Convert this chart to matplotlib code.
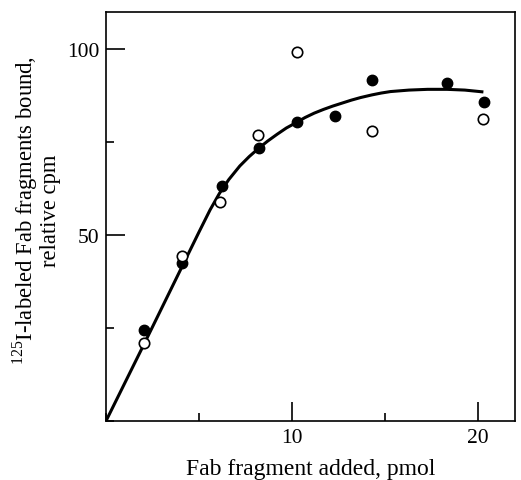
import matplotlib
matplotlib.use('agg')
import matplotlib.pyplot as plt
from matplotlib.ticker import MultipleLocator

plt.rcParams['font.family'] = 'Liberation Serif'
plt.rcParams['mathtext.fontset'] = 'custom'
plt.rcParams['mathtext.rm'] = 'Liberation Serif'

# filled circles
filled_x = [2.05, 4.1, 6.25, 8.25, 10.3, 12.3, 14.3, 18.35, 20.35]
filled_y = [24.5, 42.6, 63.2, 73.3, 80.3, 82.1, 91.7, 90.8, 85.7]
# open circles
open_x = [2.05, 4.1, 6.15, 8.2, 10.3, 14.3, 20.3]
open_y = [21.0, 44.4, 58.8, 77.0, 99.2, 78.0, 81.2]
# hand-drawn saturation curve
curve_x = [0, 2, 4, 5, 5.6, 6.1, 6.6, 7.2, 7.7, 8.2, 8.7, 9.2, 9.7, 10.25,
           10.7, 11.2, 11.7, 12.2, 12.7, 13.2, 13.7, 14.3, 14.8, 15.3, 16.3,
           17.3, 18.35, 19.3, 20.3]
curve_y = [0, 20.2, 40.6, 50.8, 56.8, 61.2, 64.9, 68.6, 71.1, 73.3, 75.3,
           77.1, 78.8, 80.3, 81.6, 82.8, 83.8, 84.7, 85.5, 86.3, 87.0, 87.7,
           88.2, 88.6, 89.0, 89.2, 89.2, 89.0, 88.5]

x_ticks = [10, 20]
y_ticks = [50, 100]


def main():
    fig = plt.figure(figsize=(5.21, 4.81), dpi=100)
    ax = fig.add_axes([106 / 521, 1 - 422 / 481, 409 / 521, 409 / 481])

    ax.plot(curve_x, curve_y, color='black', lw=2.2, solid_capstyle='butt',
            solid_joinstyle='round')
    ax.plot(filled_x, filled_y, 'o', color='black', ms=7.5, zorder=3)
    ax.plot(open_x, open_y, 'o', mfc='white', mec='black', mew=1.2, ms=7.5,
            zorder=3)

    ax.set_xlim(0, 22)
    ax.set_ylim(0, 110)
    ax.set_xticks(x_ticks)
    ax.set_yticks(y_ticks)
    ax.xaxis.set_minor_locator(MultipleLocator(5))
    ax.yaxis.set_minor_locator(MultipleLocator(25))
    ax.tick_params(which='major', direction='in', length=14, width=1.2,
                   labelsize=15.5, pad=5)
    ax.tick_params(which='minor', direction='in', length=6, width=1.2)
    ax.tick_params(top=False, right=False, which='both')
    for s in ax.spines.values():
        s.set_linewidth(1.2)

    ax.set_xlabel('Fab fragment added, pmol', fontsize=17, labelpad=8)
    fig.text(0.068, 0.562, '$^{125}$I-labeled Fab fragments bound,\nrelative cpm',
             rotation=90, ha='center', va='center', multialignment='center',
             fontsize=16.3, linespacing=1.0)

    plt.savefig('out.png', dpi=100)


if __name__ == '__main__':
    main()
